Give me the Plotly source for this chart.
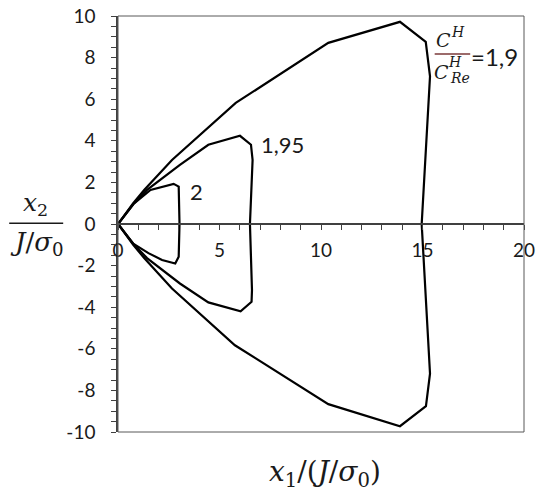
import plotly.graph_objects as go

# Closed loops (x1, x2 in units of J/sigma0)
outer_x = [0, 0.75, 1.3, 2.66, 5.8, 10.36, 13.89, 15.16, 15.37, 14.96,
           15.37, 15.17, 13.89, 10.36, 5.76, 2.66, 1.3, 0.75, 0]
outer_y = [0, 1.0, 1.65, 3.08, 5.82, 8.71, 9.72, 8.76, 7.1, 0,
           -7.2, -8.76, -9.72, -8.66, -5.83, -3.1, -1.65, -1.0, 0]

mid_x = [0, 0.75, 1.43, 3.05, 4.45, 6.01, 6.55, 6.63, 6.5,
         6.6, 6.58, 6.04, 4.45, 3.05, 1.43, 0.75, 0]
mid_y = [0, 0.95, 1.64, 2.84, 3.81, 4.24, 3.81, 3.08, 0,
         -3.18, -3.74, -4.2, -3.77, -2.86, -1.64, -0.95, 0]

inner_x = [0, 0.75, 1.6, 2.17, 2.74, 2.99, 3.03, 2.99, 2.82, 2.17, 1.5, 0.75, 0]
inner_y = [0, 0.95, 1.64, 1.8, 1.93, 1.8, 0, -1.57, -1.9, -1.73, -1.4, -0.95, 0]

x_ticks = [0, 5, 10, 15, 20]
y_ticks = [-10, -8, -6, -4, -2, 0, 2, 4, 6, 8, 10]
y_tick_text = [str(v) for v in y_ticks]

tick_font = dict(family="Lato, Noto Sans, sans-serif", size=19, color="#1a1a1a")
math_font = "DejaVu Serif, Liberation Serif, serif"

fig = go.Figure()
for xs, ys in [(outer_x, outer_y), (mid_x, mid_y), (inner_x, inner_y)]:
    fig.add_trace(go.Scatter(
        x=xs, y=ys, mode="lines",
        line=dict(color="black", width=2.2),
        showlegend=False, hoverinfo="skip",
    ))

# Curve labels
fig.add_annotation(x=3.45, y=1.55, text="2", showarrow=False, xanchor="left",
                   font=dict(family=tick_font["family"], size=22, color="#1a1a1a"))
fig.add_annotation(x=6.95, y=3.8, text="1,95", showarrow=False, xanchor="left",
                   font=dict(family=tick_font["family"], size=22, color="#1a1a1a"))
fig.add_annotation(x=17.3, y=8.05, text="=1,9", showarrow=False, xanchor="left",
                   font=dict(family=tick_font["family"], size=24, color="#1a1a1a"))

# C^H / C^H_Re fraction
frac = [
    (16.05, 8.85, "<i>C</i>", 19),
    (16.75, 9.25, "<i>H</i>", 14),
    (15.95, 7.3, "<i>C</i>", 19),
    (16.62, 7.8, "<i>H</i>", 14),
    (16.85, 7.0, "<i>Re</i>", 14),
]
for fx, fy, txt, sz in frac:
    fig.add_annotation(x=fx, y=fy, text=txt, showarrow=False,
                       font=dict(family=math_font, size=sz, color="#1a1a1a"))
fig.add_shape(type="line", xref="x", yref="y", x0=15.6, x1=17.35, y0=8.17, y1=8.17,
              line=dict(color="#9c6b6b", width=2))

# Axis titles
fig.add_annotation(xref="paper", yref="paper", x=-0.24, y=0.548,
                   text="<i>x</i><sub>2</sub>", showarrow=False,
                   font=dict(family=math_font, size=25, color="#1a1a1a"))
fig.add_shape(type="line", xref="paper", yref="paper", x0=-0.268, x1=-0.135,
              y0=0.502, y1=0.502, line=dict(color="#1a1a1a", width=1.5))
fig.add_annotation(xref="paper", yref="paper", x=-0.27, y=0.452,
                   text="<i>J</i>/<i>σ</i><sub>0</sub>", showarrow=False,
                   font=dict(family=math_font, size=26, color="#1a1a1a"))
fig.add_annotation(xref="paper", yref="paper", x=0.51, y=-0.15,
                   text="<i>x</i><sub>1</sub>/(<i>J</i>/<i>σ</i><sub>0</sub>)",
                   showarrow=False,
                   font=dict(family=math_font, size=28, color="#1a1a1a"))

# Plot frame
fig.add_shape(type="rect", xref="paper", yref="paper", x0=0, x1=1, y0=0, y1=1,
              line=dict(color="#595959", width=1))

fig.update_layout(
    width=550, height=497,
    margin=dict(l=118, r=26, t=16, b=65),
    paper_bgcolor="white", plot_bgcolor="white",
    xaxis=dict(
        range=[0, 20], anchor="free", position=0.5, automargin=False,
        tickvals=x_ticks, ticks="outside", ticklen=5, tickcolor="#404040",
        minor=dict(dtick=1, ticks="outside", ticklen=5, tickcolor="#404040"),
        showline=True, linecolor="#404040", linewidth=1.5,
        showgrid=False, zeroline=False,
        tickfont=tick_font, ticklabelstandoff=4,
    ),
    yaxis=dict(
        range=[-10, 10], automargin=False,
        tickvals=y_ticks, ticktext=y_tick_text,
        ticks="outside", ticklen=5, tickcolor="#404040",
        minor=dict(dtick=0.5, ticks="outside", ticklen=5, tickcolor="#404040"),
        showline=True, linecolor="#404040", linewidth=1.5,
        showgrid=False, zeroline=False,
        tickfont=tick_font, ticklabelstandoff=12,
    ),
)

# drop the browser's default body margin so the figure sits at the page corner
fig.write_html("out.html", config={"displayModeBar": False},
               post_script="document.body.style.margin = '0';")
